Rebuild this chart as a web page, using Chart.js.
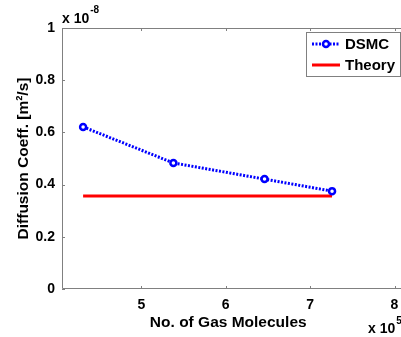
<!DOCTYPE html>
<html>
<head>
<meta charset="utf-8">
<script src="https://cdn.jsdelivr.net/npm/chart.js@4.4.1/dist/chart.umd.min.js"></script>
<style>
    html,body{margin:0;padding:0;background:#fff;}
    #wrap{width:401px;height:337px;position:relative;}
</style>
</head>
<body>
<div id="wrap"><canvas id="diffChart" width="401" height="337"></canvas></div>
<script>

/* ================================
   DATA
================================ */

const molecules=[4.31,5.38,6.46,7.26];          // x 10^5
const dsmcCoeff=[0.621,0.483,0.421,0.375];      // x 10^-8
const theoryX=[4.31,7.26];
const theoryCoeff=[0.356,0.356];

const xTicks=[5,6,7,8];
const yTicks=[0,0.2,0.4,0.6,0.8,1];

const FONT="'Liberation Sans', Arial, sans-serif";
const AXIS_GRAY="#808080";


/* ================================
   BOX, INWARD TICKS, EXPONENTS, LEGEND
================================ */

const matlabLook={
    id:"matlabLook",
    afterDraw(chart){

        const ctx=chart.ctx;
        const area=chart.chartArea;
        const xs=chart.scales.x;
        const ys=chart.scales.y;

        ctx.save();

        /* axes frame: the box runs past the right edge of the window */
        ctx.strokeStyle=AXIS_GRAY;
        ctx.lineWidth=1;
        ctx.beginPath();
        ctx.moveTo(chart.width,area.top+0.5);
        ctx.lineTo(area.left+0.5,area.top+0.5);
        ctx.lineTo(area.left+0.5,area.bottom-0.5);
        ctx.lineTo(chart.width,area.bottom-0.5);
        ctx.stroke();

        /* inward ticks */
        const tl=3;
        ctx.beginPath();
        xTicks.forEach(v=>{
            const px=Math.round(xs.getPixelForValue(v))+0.5;
            ctx.moveTo(px,area.bottom);
            ctx.lineTo(px,area.bottom-tl);
            ctx.moveTo(px,area.top);
            ctx.lineTo(px,area.top+tl);
        });
        yTicks.forEach(v=>{
            const py=Math.round(ys.getPixelForValue(v))+0.5;
            ctx.moveTo(area.left,py);
            ctx.lineTo(area.left+tl,py);
        });
        ctx.stroke();

        /* exponent labels */
        ctx.fillStyle="#000";
        ctx.textBaseline="alphabetic";
        ctx.textAlign="left";
        ctx.font="bold 14px "+FONT;
        ctx.fillText("x 10",area.left,area.top-5);
        let w=ctx.measureText("x 10").width;
        ctx.font="bold 10px "+FONT;
        ctx.fillText("-8",area.left+w+1,area.top-15);

        ctx.font="bold 14px "+FONT;
        ctx.fillText("x 10",368,333);
        w=ctx.measureText("x 10").width;
        ctx.font="bold 10px "+FONT;
        ctx.fillText("5",368+w+1,324);

        /* legend */
        const lx=306, ly=32, lw=94, lh=44;
        ctx.fillStyle="#fff";
        ctx.fillRect(lx,ly,lw,lh);
        ctx.strokeStyle=AXIS_GRAY;
        ctx.lineWidth=1;
        ctx.strokeRect(lx+0.5,ly+0.5,lw,lh);

        const ds=chart.data.datasets;

        /* DSMC entry */
        ctx.strokeStyle=ds[0].borderColor;
        ctx.lineWidth=ds[0].borderWidth;
        ctx.setLineDash(ds[0].borderDash);
        ctx.beginPath();
        ctx.moveTo(312,44);
        ctx.lineTo(340,44);
        ctx.stroke();
        ctx.setLineDash([]);
        ctx.beginPath();
        ctx.arc(326,44,ds[0].pointRadius,0,Math.PI*2);
        ctx.fillStyle=ds[0].pointBackgroundColor;
        ctx.fill();
        ctx.lineWidth=ds[0].pointBorderWidth;
        ctx.strokeStyle=ds[0].pointBorderColor;
        ctx.stroke();

        /* Theory entry */
        ctx.strokeStyle=ds[1].borderColor;
        ctx.lineWidth=ds[1].borderWidth;
        ctx.beginPath();
        ctx.moveTo(312,65);
        ctx.lineTo(340,65);
        ctx.stroke();

        ctx.fillStyle="#000";
        ctx.font="bold 15px "+FONT;
        ctx.textBaseline="middle";
        ctx.fillText(ds[0].label,345,45);
        ctx.fillText(ds[1].label,345,66);

        ctx.restore();
    }
};


/* ================================
   CHART
================================ */

function buildChart(){

    const canvas=document.getElementById("diffChart");

    const dsmcPoints=molecules.map((x,i)=>({x:x,y:dsmcCoeff[i]}));
    const theoryPoints=theoryX.map((x,i)=>({x:x,y:theoryCoeff[i]}));

    new Chart(canvas.getContext("2d"),{

        type:"scatter",

        data:{
            datasets:[
                {
                    label:"DSMC",
                    data:dsmcPoints,
                    showLine:true,
                    borderColor:"#0000ff",
                    borderWidth:3,
                    borderDash:[2,1.5],
                    pointRadius:3,
                    pointBorderWidth:2.5,
                    pointBorderColor:"#0000ff",
                    pointBackgroundColor:"#ffffff",
                    order:0
                },
                {
                    label:"Theory",
                    data:theoryPoints,
                    showLine:true,
                    borderColor:"#ff0000",
                    borderWidth:3,
                    pointRadius:0,
                    order:1
                }
            ]
        },

        options:{
            responsive:false,
            animation:false,
            layout:{
                padding:{top:28,right:0,bottom:0,left:0}
            },
            plugins:{
                legend:{display:false},
                tooltip:{enabled:false}
            },
            scales:{
                x:{
                    type:"linear",
                    min:4.06,
                    max:8,
                    afterBuildTicks:s=>{ s.ticks=xTicks.map(v=>({value:v})); },
                    grid:{display:false,drawTicks:false},
                    border:{display:false},
                    ticks:{
                        color:"#000",
                        padding:8,
                        maxRotation:0,
                        font:{family:FONT,size:14,weight:"bold"}
                    },
                    title:{
                        display:true,
                        text:"No. of Gas Molecules",
                        color:"#000",
                        padding:{top:0,bottom:5},
                        font:{family:FONT,size:15.5,weight:"bold"}
                    },
                    afterFit:s=>{
                        s.height=48;
                        s.paddingLeft=0;
                        s.paddingRight=0;
                    }
                },
                y:{
                    type:"linear",
                    min:0,
                    max:1,
                    afterBuildTicks:s=>{ s.ticks=yTicks.map(v=>({value:v})); },
                    grid:{display:false,drawTicks:false},
                    border:{display:false},
                    ticks:{
                        color:"#000",
                        padding:7,
                        font:{family:FONT,size:14,weight:"bold"},
                        callback:v=>(v===0||v===1)?String(v):v.toFixed(1)
                    },
                    title:{
                        display:true,
                        text:"Diffusion Coeff. [m\u00b2/s]",
                        color:"#000",
                        padding:{top:14,bottom:0},
                        font:{family:FONT,size:15.5,weight:"bold"}
                    },
                    afterFit:s=>{
                        s.width=62;
                        s.paddingTop=0;
                        s.paddingBottom=0;
                    }
                }
            }
        },

        plugins:[matlabLook]

    });

}

document.addEventListener("DOMContentLoaded",buildChart);

</script>
</body>
</html>
